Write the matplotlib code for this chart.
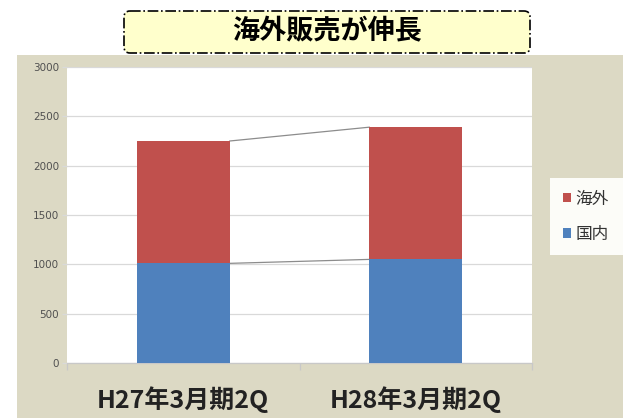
import numpy as np
import matplotlib.pyplot as plt
from matplotlib.patches import Rectangle, FancyBboxPatch

plt.rcParams['font.family'] = ['Noto Sans CJK JP', 'DejaVu Sans']

categories = ["H27年3月期2Q", "H28年3月期2Q"]
domestic = [1010, 1050]     # 国内
overseas = [1240, 1340]     # 海外
yticks = [0, 500, 1000, 1500, 2000, 2500, 3000]
title = "海外販売が伸長"

blue = "#4f81bd"
red = "#c0504d"
beige = "#dcd9c4"
grid = "#d9d9d9"

fig = plt.figure(figsize=(6.23, 4.18), dpi=100)

# background layer in pixel coordinates
bg = fig.add_axes([0, 0, 1, 1], zorder=0)
bg.set_xlim(0, 623)
bg.set_ylim(418, 0)
bg.axis("off")
bg.add_patch(Rectangle((17, 55), 606, 363, facecolor=beige, edgecolor="none"))
box = FancyBboxPatch((124, 11), 406, 42, boxstyle="round,pad=0,rounding_size=6",
                     facecolor="#ffffcc", edgecolor="black", linestyle="-.", linewidth=1.2)
bg.add_patch(box)
bg.text(327, 31, title, ha="center", va="center", fontsize=19.5, fontweight="bold")

ax = fig.add_axes([67/623, 55/418, 465/623, 296/418], zorder=1)
ax.set_facecolor("white")
x = np.arange(len(categories))
w = 0.4
b1 = ax.bar(x, domestic, w, color=blue, zorder=3)
tops = np.array(domestic) + np.array(overseas)
b2 = ax.bar(x, overseas, w, bottom=domestic, color=red, zorder=3)

# series lines between the stacks
ax.plot([x[0] + w/2, x[1] - w/2], [domestic[0], domestic[1]], color="#8c8c8c", lw=0.9, zorder=2)
ax.plot([x[0] + w/2, x[1] - w/2], [tops[0], tops[1]], color="#8c8c8c", lw=0.9, zorder=2)

ax.set_xlim(-0.5, 1.5)
ax.set_ylim(0, 3000)
ax.set_yticks(yticks)
ax.set_yticklabels([str(v) for v in yticks], fontsize=7.5, color="#505050", family="DejaVu Sans")
ax.yaxis.grid(True, color=grid, lw=0.9, zorder=0)
ax.set_axisbelow(True)
ax.tick_params(axis="y", length=3.6, color=grid, width=0.9, pad=2)

ax.set_xticks(x)
ax.set_xticklabels(categories, fontsize=18, fontweight="bold", color="#222222")
ax.set_xticks([-0.5, 0.5, 1.5], minor=True)
ax.tick_params(axis="x", which="major", length=0, pad=17)
ax.tick_params(axis="x", which="minor", length=5, color="#c8c8c8", width=0.9)

for s in ["top", "right", "left"]:
    ax.spines[s].set_visible(False)
ax.spines["bottom"].set_color("#c8c8c8")
ax.spines["bottom"].set_linewidth(0.9)

leg = fig.legend([b2, b1], ["海外", "国内"], loc="upper left",
                 bbox_to_anchor=(550/623, 0.2, 0.2, 1 - 178/418 - 0.2), mode="expand",
                 fontsize=12, handlelength=0.5, handleheight=0.5, handletextpad=0.3,
                 labelspacing=1.1, borderpad=0.75, borderaxespad=0,
                 fancybox=False, framealpha=1)
leg.get_frame().set_facecolor("#fcfcf8")
leg.get_frame().set_edgecolor("none")
for t in leg.get_texts():
    t.set_color("#333333")

fig.savefig("out.png", dpi=100)
